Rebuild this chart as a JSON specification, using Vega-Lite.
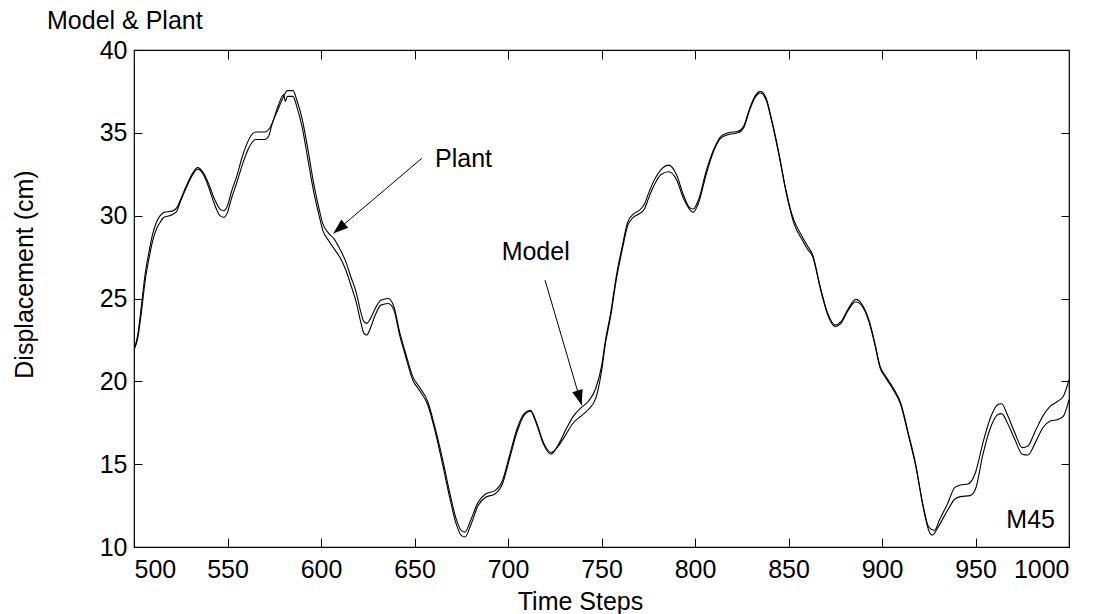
{
  "$schema": "https://vega.github.io/schema/vega-lite/v6.json",
  "width": 935,
  "height": 497,
  "autosize": "none",
  "padding": {"left": 134, "top": 50, "right": 34, "bottom": 67},
  "background": "white",
  "config": {
    "font": "Liberation Sans",
    "view": {"stroke": "black", "strokeWidth": 1.2},
    "axis": {"grid": false, "labelFont": "Liberation Sans", "titleFont": "Liberation Sans", "labelFontSize": 25, "titleFontSize": 25, "labelColor": "black", "titleColor": "black", "titleFontWeight": "normal", "tickColor": "black", "domain": false, "tickWidth": 1}
  },
  "title": {"text": "Model & Plant", "anchor": "start", "dx": -87, "offset": -16, "baseline": "alphabetic", "fontSize": 25, "fontWeight": "normal", "font": "Liberation Sans", "color": "black", "frame": "group"},
  "datasets": {
    "curves": [
      {"t": 500, "v": 21.9, "s": "Plant"}, {"t": 502, "v": 22.6, "s": "Plant"}, {"t": 504, "v": 24.2, "s": "Plant"}, {"t": 506, "v": 26.1, "s": "Plant"}, {"t": 508, "v": 27.4, "s": "Plant"}, {"t": 510, "v": 28.5, "s": "Plant"}, {"t": 512, "v": 29.2, "s": "Plant"}, {"t": 514, "v": 29.6, "s": "Plant"}, {"t": 516, "v": 29.9, "s": "Plant"}, {"t": 519, "v": 30.0, "s": "Plant"}, {"t": 521, "v": 30.1, "s": "Plant"}, {"t": 523, "v": 30.3, "s": "Plant"}, {"t": 525, "v": 30.9, "s": "Plant"}, {"t": 528, "v": 31.7, "s": "Plant"}, {"t": 531, "v": 32.4, "s": "Plant"}, {"t": 534, "v": 32.8, "s": "Plant"}, {"t": 537, "v": 32.5, "s": "Plant"}, {"t": 540, "v": 31.7, "s": "Plant"}, {"t": 543, "v": 30.7, "s": "Plant"}, {"t": 546, "v": 30.0, "s": "Plant"}, {"t": 548, "v": 29.9, "s": "Plant"}, {"t": 550, "v": 30.2, "s": "Plant"}, {"t": 552, "v": 31.0, "s": "Plant"}, {"t": 555, "v": 32.0, "s": "Plant"}, {"t": 558, "v": 33.1, "s": "Plant"}, {"t": 561, "v": 34.0, "s": "Plant"}, {"t": 563, "v": 34.4, "s": "Plant"}, {"t": 565, "v": 34.6, "s": "Plant"}, {"t": 570, "v": 34.6, "s": "Plant"}, {"t": 572, "v": 34.8, "s": "Plant"}, {"t": 574, "v": 35.6, "s": "Plant"}, {"t": 577, "v": 36.4, "s": "Plant"}, {"t": 580, "v": 37.2, "s": "Plant"}, {"t": 582, "v": 37.55, "s": "Plant"}, {"t": 585, "v": 37.55, "s": "Plant"}, {"t": 587, "v": 37.0, "s": "Plant"}, {"t": 590, "v": 35.8, "s": "Plant"}, {"t": 593, "v": 34.0, "s": "Plant"}, {"t": 596, "v": 32.0, "s": "Plant"}, {"t": 599, "v": 30.4, "s": "Plant"}, {"t": 601, "v": 29.5, "s": "Plant"}, {"t": 604, "v": 28.95, "s": "Plant"}, {"t": 607, "v": 28.6, "s": "Plant"}, {"t": 610, "v": 28.0, "s": "Plant"}, {"t": 613, "v": 27.3, "s": "Plant"}, {"t": 616, "v": 26.3, "s": "Plant"}, {"t": 619, "v": 25.3, "s": "Plant"}, {"t": 621, "v": 24.3, "s": "Plant"}, {"t": 623, "v": 23.6, "s": "Plant"}, {"t": 624.5, "v": 23.5, "s": "Plant"}, {"t": 626, "v": 23.7, "s": "Plant"}, {"t": 629, "v": 24.4, "s": "Plant"}, {"t": 632, "v": 24.9, "s": "Plant"}, {"t": 636, "v": 25.0, "s": "Plant"}, {"t": 639, "v": 24.5, "s": "Plant"}, {"t": 642, "v": 23.0, "s": "Plant"}, {"t": 645, "v": 21.8, "s": "Plant"}, {"t": 649, "v": 20.3, "s": "Plant"}, {"t": 653, "v": 19.6, "s": "Plant"}, {"t": 657, "v": 18.8, "s": "Plant"}, {"t": 661, "v": 17.2, "s": "Plant"}, {"t": 665, "v": 15.3, "s": "Plant"}, {"t": 669, "v": 13.2, "s": "Plant"}, {"t": 672, "v": 11.8, "s": "Plant"}, {"t": 675, "v": 11.0, "s": "Plant"}, {"t": 677, "v": 10.9, "s": "Plant"}, {"t": 680, "v": 11.6, "s": "Plant"}, {"t": 684, "v": 12.7, "s": "Plant"}, {"t": 688, "v": 13.2, "s": "Plant"}, {"t": 693, "v": 13.4, "s": "Plant"}, {"t": 697, "v": 14.0, "s": "Plant"}, {"t": 701, "v": 15.6, "s": "Plant"}, {"t": 705, "v": 17.2, "s": "Plant"}, {"t": 709, "v": 18.1, "s": "Plant"}, {"t": 712, "v": 18.25, "s": "Plant"}, {"t": 715, "v": 17.6, "s": "Plant"}, {"t": 719, "v": 16.3, "s": "Plant"}, {"t": 723, "v": 15.7, "s": "Plant"}, {"t": 727, "v": 16.1, "s": "Plant"}, {"t": 731, "v": 16.8, "s": "Plant"}, {"t": 735, "v": 17.5, "s": "Plant"}, {"t": 739, "v": 17.9, "s": "Plant"}, {"t": 743, "v": 18.3, "s": "Plant"}, {"t": 747, "v": 19.0, "s": "Plant"}, {"t": 750, "v": 20.6, "s": "Plant"}, {"t": 752, "v": 22.2, "s": "Plant"}, {"t": 755, "v": 24.0, "s": "Plant"}, {"t": 758, "v": 26.2, "s": "Plant"}, {"t": 761, "v": 27.9, "s": "Plant"}, {"t": 764, "v": 29.4, "s": "Plant"}, {"t": 767, "v": 29.9, "s": "Plant"}, {"t": 770, "v": 30.1, "s": "Plant"}, {"t": 773, "v": 30.4, "s": "Plant"}, {"t": 775, "v": 31.0, "s": "Plant"}, {"t": 778, "v": 31.8, "s": "Plant"}, {"t": 782, "v": 32.5, "s": "Plant"}, {"t": 786, "v": 32.65, "s": "Plant"}, {"t": 790, "v": 32.2, "s": "Plant"}, {"t": 794, "v": 31.0, "s": "Plant"}, {"t": 797, "v": 30.4, "s": "Plant"}, {"t": 799, "v": 30.2, "s": "Plant"}, {"t": 802, "v": 30.8, "s": "Plant"}, {"t": 806, "v": 32.5, "s": "Plant"}, {"t": 810, "v": 33.9, "s": "Plant"}, {"t": 814, "v": 34.7, "s": "Plant"}, {"t": 818, "v": 34.9, "s": "Plant"}, {"t": 823, "v": 35.0, "s": "Plant"}, {"t": 826, "v": 35.3, "s": "Plant"}, {"t": 829, "v": 36.3, "s": "Plant"}, {"t": 832, "v": 37.1, "s": "Plant"}, {"t": 835, "v": 37.4, "s": "Plant"}, {"t": 838, "v": 37.0, "s": "Plant"}, {"t": 841, "v": 35.7, "s": "Plant"}, {"t": 845, "v": 33.6, "s": "Plant"}, {"t": 848, "v": 31.8, "s": "Plant"}, {"t": 851, "v": 30.3, "s": "Plant"}, {"t": 853, "v": 29.5, "s": "Plant"}, {"t": 857, "v": 28.6, "s": "Plant"}, {"t": 860, "v": 28.0, "s": "Plant"}, {"t": 863, "v": 27.5, "s": "Plant"}, {"t": 867, "v": 25.6, "s": "Plant"}, {"t": 871, "v": 24.0, "s": "Plant"}, {"t": 875, "v": 23.3, "s": "Plant"}, {"t": 878, "v": 23.5, "s": "Plant"}, {"t": 882, "v": 24.3, "s": "Plant"}, {"t": 886, "v": 24.8, "s": "Plant"}, {"t": 889, "v": 24.6, "s": "Plant"}, {"t": 893, "v": 23.6, "s": "Plant"}, {"t": 896, "v": 22.3, "s": "Plant"}, {"t": 899, "v": 20.8, "s": "Plant"}, {"t": 902, "v": 20.2, "s": "Plant"}, {"t": 906, "v": 19.5, "s": "Plant"}, {"t": 910, "v": 18.6, "s": "Plant"}, {"t": 914, "v": 16.8, "s": "Plant"}, {"t": 918, "v": 14.9, "s": "Plant"}, {"t": 922, "v": 12.5, "s": "Plant"}, {"t": 925, "v": 11.2, "s": "Plant"}, {"t": 928, "v": 11.0, "s": "Plant"}, {"t": 931, "v": 11.7, "s": "Plant"}, {"t": 935, "v": 12.6, "s": "Plant"}, {"t": 939, "v": 13.6, "s": "Plant"}, {"t": 942, "v": 13.74, "s": "Plant"}, {"t": 946, "v": 13.8, "s": "Plant"}, {"t": 950, "v": 14.5, "s": "Plant"}, {"t": 954, "v": 16.3, "s": "Plant"}, {"t": 958, "v": 17.8, "s": "Plant"}, {"t": 962, "v": 18.6, "s": "Plant"}, {"t": 964, "v": 18.65, "s": "Plant"}, {"t": 967, "v": 18.0, "s": "Plant"}, {"t": 971, "v": 16.9, "s": "Plant"}, {"t": 975, "v": 16.0, "s": "Plant"}, {"t": 978, "v": 16.1, "s": "Plant"}, {"t": 982, "v": 17.0, "s": "Plant"}, {"t": 986, "v": 17.9, "s": "Plant"}, {"t": 990, "v": 18.5, "s": "Plant"}, {"t": 994, "v": 18.8, "s": "Plant"}, {"t": 997, "v": 19.1, "s": "Plant"}, {"t": 1000, "v": 20.1, "s": "Plant"},

      {"t": 500, "v": 21.9, "s": "Model"}, {"t": 502, "v": 22.8, "s": "Model"}, {"t": 504, "v": 24.6, "s": "Model"}, {"t": 506, "v": 26.5, "s": "Model"}, {"t": 508, "v": 27.8, "s": "Model"}, {"t": 510, "v": 28.9, "s": "Model"}, {"t": 512, "v": 29.6, "s": "Model"}, {"t": 514, "v": 30.0, "s": "Model"}, {"t": 516, "v": 30.2, "s": "Model"}, {"t": 519, "v": 30.25, "s": "Model"}, {"t": 521, "v": 30.3, "s": "Model"}, {"t": 523, "v": 30.5, "s": "Model"}, {"t": 525, "v": 31.0, "s": "Model"}, {"t": 528, "v": 31.8, "s": "Model"}, {"t": 531, "v": 32.5, "s": "Model"}, {"t": 534, "v": 32.9, "s": "Model"}, {"t": 537, "v": 32.6, "s": "Model"}, {"t": 540, "v": 31.9, "s": "Model"}, {"t": 543, "v": 31.0, "s": "Model"}, {"t": 546, "v": 30.4, "s": "Model"}, {"t": 548, "v": 30.3, "s": "Model"}, {"t": 550, "v": 30.6, "s": "Model"}, {"t": 552, "v": 31.4, "s": "Model"}, {"t": 555, "v": 32.4, "s": "Model"}, {"t": 558, "v": 33.6, "s": "Model"}, {"t": 561, "v": 34.5, "s": "Model"}, {"t": 563, "v": 34.9, "s": "Model"}, {"t": 565, "v": 35.05, "s": "Model"}, {"t": 570, "v": 35.05, "s": "Model"}, {"t": 572, "v": 35.2, "s": "Model"}, {"t": 574, "v": 35.6, "s": "Model"}, {"t": 577, "v": 36.6, "s": "Model"}, {"t": 580, "v": 37.3, "s": "Model"}, {"t": 581, "v": 36.9, "s": "Model"}, {"t": 582, "v": 37.2, "s": "Model"}, {"t": 585, "v": 37.2, "s": "Model"}, {"t": 587, "v": 36.6, "s": "Model"}, {"t": 590, "v": 35.3, "s": "Model"}, {"t": 593, "v": 33.4, "s": "Model"}, {"t": 596, "v": 31.5, "s": "Model"}, {"t": 599, "v": 30.0, "s": "Model"}, {"t": 601, "v": 29.1, "s": "Model"}, {"t": 604, "v": 28.5, "s": "Model"}, {"t": 607, "v": 28.0, "s": "Model"}, {"t": 610, "v": 27.5, "s": "Model"}, {"t": 613, "v": 26.8, "s": "Model"}, {"t": 616, "v": 25.8, "s": "Model"}, {"t": 619, "v": 24.7, "s": "Model"}, {"t": 621, "v": 23.7, "s": "Model"}, {"t": 623, "v": 22.9, "s": "Model"}, {"t": 624.5, "v": 22.8, "s": "Model"}, {"t": 626, "v": 23.1, "s": "Model"}, {"t": 629, "v": 24.0, "s": "Model"}, {"t": 632, "v": 24.6, "s": "Model"}, {"t": 636, "v": 24.7, "s": "Model"}, {"t": 639, "v": 24.3, "s": "Model"}, {"t": 642, "v": 22.8, "s": "Model"}, {"t": 645, "v": 21.6, "s": "Model"}, {"t": 649, "v": 20.1, "s": "Model"}, {"t": 653, "v": 19.4, "s": "Model"}, {"t": 657, "v": 18.6, "s": "Model"}, {"t": 661, "v": 17.0, "s": "Model"}, {"t": 665, "v": 15.0, "s": "Model"}, {"t": 669, "v": 12.9, "s": "Model"}, {"t": 672, "v": 11.5, "s": "Model"}, {"t": 675, "v": 10.7, "s": "Model"}, {"t": 677, "v": 10.6, "s": "Model"}, {"t": 680, "v": 11.3, "s": "Model"}, {"t": 684, "v": 12.5, "s": "Model"}, {"t": 688, "v": 13.0, "s": "Model"}, {"t": 693, "v": 13.2, "s": "Model"}, {"t": 697, "v": 13.8, "s": "Model"}, {"t": 701, "v": 15.4, "s": "Model"}, {"t": 705, "v": 17.0, "s": "Model"}, {"t": 709, "v": 18.0, "s": "Model"}, {"t": 712, "v": 18.2, "s": "Model"}, {"t": 715, "v": 17.5, "s": "Model"}, {"t": 719, "v": 16.2, "s": "Model"}, {"t": 723, "v": 15.6, "s": "Model"}, {"t": 727, "v": 16.2, "s": "Model"}, {"t": 731, "v": 17.1, "s": "Model"}, {"t": 735, "v": 17.9, "s": "Model"}, {"t": 739, "v": 18.4, "s": "Model"}, {"t": 743, "v": 18.8, "s": "Model"}, {"t": 747, "v": 19.6, "s": "Model"}, {"t": 750, "v": 20.9, "s": "Model"}, {"t": 752, "v": 22.4, "s": "Model"}, {"t": 755, "v": 24.2, "s": "Model"}, {"t": 758, "v": 26.4, "s": "Model"}, {"t": 761, "v": 28.1, "s": "Model"}, {"t": 764, "v": 29.6, "s": "Model"}, {"t": 767, "v": 30.1, "s": "Model"}, {"t": 770, "v": 30.3, "s": "Model"}, {"t": 773, "v": 30.7, "s": "Model"}, {"t": 775, "v": 31.3, "s": "Model"}, {"t": 778, "v": 32.1, "s": "Model"}, {"t": 782, "v": 32.8, "s": "Model"}, {"t": 786, "v": 33.05, "s": "Model"}, {"t": 790, "v": 32.5, "s": "Model"}, {"t": 794, "v": 31.2, "s": "Model"}, {"t": 797, "v": 30.5, "s": "Model"}, {"t": 799, "v": 30.4, "s": "Model"}, {"t": 802, "v": 31.0, "s": "Model"}, {"t": 806, "v": 32.7, "s": "Model"}, {"t": 810, "v": 34.0, "s": "Model"}, {"t": 814, "v": 34.8, "s": "Model"}, {"t": 818, "v": 35.0, "s": "Model"}, {"t": 823, "v": 35.1, "s": "Model"}, {"t": 826, "v": 35.4, "s": "Model"}, {"t": 829, "v": 36.4, "s": "Model"}, {"t": 832, "v": 37.2, "s": "Model"}, {"t": 835, "v": 37.5, "s": "Model"}, {"t": 838, "v": 37.1, "s": "Model"}, {"t": 841, "v": 35.8, "s": "Model"}, {"t": 845, "v": 33.7, "s": "Model"}, {"t": 848, "v": 31.9, "s": "Model"}, {"t": 851, "v": 30.4, "s": "Model"}, {"t": 853, "v": 29.7, "s": "Model"}, {"t": 857, "v": 28.8, "s": "Model"}, {"t": 860, "v": 28.2, "s": "Model"}, {"t": 863, "v": 27.6, "s": "Model"}, {"t": 867, "v": 25.7, "s": "Model"}, {"t": 871, "v": 24.1, "s": "Model"}, {"t": 875, "v": 23.4, "s": "Model"}, {"t": 878, "v": 23.6, "s": "Model"}, {"t": 882, "v": 24.4, "s": "Model"}, {"t": 886, "v": 24.95, "s": "Model"}, {"t": 889, "v": 24.7, "s": "Model"}, {"t": 893, "v": 23.7, "s": "Model"}, {"t": 896, "v": 22.4, "s": "Model"}, {"t": 899, "v": 20.9, "s": "Model"}, {"t": 902, "v": 20.3, "s": "Model"}, {"t": 906, "v": 19.6, "s": "Model"}, {"t": 910, "v": 18.7, "s": "Model"}, {"t": 914, "v": 16.9, "s": "Model"}, {"t": 918, "v": 15.0, "s": "Model"}, {"t": 922, "v": 12.4, "s": "Model"}, {"t": 925, "v": 11.0, "s": "Model"}, {"t": 927, "v": 10.72, "s": "Model"}, {"t": 930, "v": 11.2, "s": "Model"}, {"t": 935, "v": 12.2, "s": "Model"}, {"t": 939, "v": 12.9, "s": "Model"}, {"t": 942, "v": 13.04, "s": "Model"}, {"t": 947, "v": 13.1, "s": "Model"}, {"t": 950, "v": 13.5, "s": "Model"}, {"t": 954, "v": 15.6, "s": "Model"}, {"t": 958, "v": 17.2, "s": "Model"}, {"t": 962, "v": 18.0, "s": "Model"}, {"t": 964, "v": 18.05, "s": "Model"}, {"t": 967, "v": 17.5, "s": "Model"}, {"t": 971, "v": 16.5, "s": "Model"}, {"t": 975, "v": 15.6, "s": "Model"}, {"t": 978, "v": 15.55, "s": "Model"}, {"t": 982, "v": 16.3, "s": "Model"}, {"t": 986, "v": 17.2, "s": "Model"}, {"t": 990, "v": 17.6, "s": "Model"}, {"t": 994, "v": 17.7, "s": "Model"}, {"t": 997, "v": 17.9, "s": "Model"}, {"t": 1000, "v": 18.9, "s": "Model"}
    ],
    "arrows": [
      {"label": "Plant", "t1": 653.9, "v1": 33.46, "t2": 606.6, "v2": 28.93},
      {"label": "Model", "t1": 719.8, "v1": 26.11, "t2": 739.4, "v2": 18.57}
    ],
    "labels": [
      {"label": "Plant", "t": 661, "v": 32.93},
      {"label": "Model", "t": 696.6, "v": 27.32}
    ],
    "tag": [
      {"label": "M45", "t": 992.5, "v": 11.13}
    ]
  },
  "layer": [
    {
      "data": {"name": "curves"},
      "mark": {"type": "line", "color": "black", "strokeWidth": 1.1, "interpolate": "monotone", "clip": true},
      "encoding": {
        "x": {"field": "t", "type": "quantitative", "scale": {"domain": [500, 1000], "nice": false, "zero": false},
              "axis": {"title": "Time Steps", "format": "d", "values": [500, 550, 600, 650, 700, 750, 800, 850, 900, 950, 1000], "tickSize": -9, "labelPadding": 19, "titleX": 446, "titleY": 62, "titleBaseline": "alphabetic", "titleAnchor": null}},
        "y": {"field": "v", "type": "quantitative", "scale": {"domain": [10, 40], "nice": false, "zero": false},
              "axis": {"title": "Displacement (cm)", "format": "d", "values": [10, 15, 20, 25, 30, 35, 40], "tickSize": -8, "labelPadding": 15, "titleX": -102, "titleY": 224, "titleBaseline": "alphabetic", "titleAngle": -90}},
        "detail": {"field": "s", "type": "nominal"}
      }
    },
    {
      "data": {"name": "curves"},
      "mark": {"type": "line", "opacity": 0},
      "encoding": {
        "x": {"field": "t", "type": "quantitative", "axis": {"orient": "top", "labels": false, "title": null, "values": [550, 600, 650, 700, 750, 800, 850, 900, 950], "tickSize": -9}},
        "y": {"field": "v", "type": "quantitative", "axis": {"orient": "right", "labels": false, "title": null, "values": [15, 20, 25, 30, 35], "tickSize": -8}},
        "detail": {"field": "s", "type": "nominal"}
      }
    },
    {
      "data": {"name": "arrows"},
      "mark": {"type": "rule", "color": "black", "strokeWidth": 1},
      "encoding": {
        "x": {"field": "t1", "type": "quantitative", "axis": null},
        "y": {"field": "v1", "type": "quantitative", "axis": null},
        "x2": {"field": "t2"},
        "y2": {"field": "v2"}
      }
    },
    {
      "data": {"name": "arrows"},
      "transform": [{"filter": "datum.label === 'Plant'"}],
      "mark": {"type": "point", "shape": "M0,0L-0.36,1L0.36,1Z", "filled": true, "color": "black", "opacity": 1, "size": 900, "angle": 229.7},
      "encoding": {
        "x": {"field": "t2", "type": "quantitative", "axis": null},
        "y": {"field": "v2", "type": "quantitative", "axis": null}
      }
    },
    {
      "data": {"name": "arrows"},
      "transform": [{"filter": "datum.label === 'Model'"}],
      "mark": {"type": "point", "shape": "M0,0L-0.36,1L0.36,1Z", "filled": true, "color": "black", "opacity": 1, "size": 900, "angle": 163.6},
      "encoding": {
        "x": {"field": "t2", "type": "quantitative", "axis": null},
        "y": {"field": "v2", "type": "quantitative", "axis": null}
      }
    },
    {
      "data": {"name": "labels"},
      "mark": {"type": "text", "align": "left", "baseline": "alphabetic", "fontSize": 25, "font": "Liberation Sans", "color": "black"},
      "encoding": {
        "x": {"field": "t", "type": "quantitative", "axis": null},
        "y": {"field": "v", "type": "quantitative", "axis": null},
        "text": {"field": "label"}
      }
    },
    {
      "data": {"name": "tag"},
      "mark": {"type": "text", "align": "right", "baseline": "alphabetic", "fontSize": 25, "font": "Liberation Sans", "color": "black"},
      "encoding": {
        "x": {"field": "t", "type": "quantitative", "axis": null},
        "y": {"field": "v", "type": "quantitative", "axis": null},
        "text": {"field": "label"}
      }
    }
  ],
  "resolve": {"axis": {"x": "independent", "y": "independent"}}
}
